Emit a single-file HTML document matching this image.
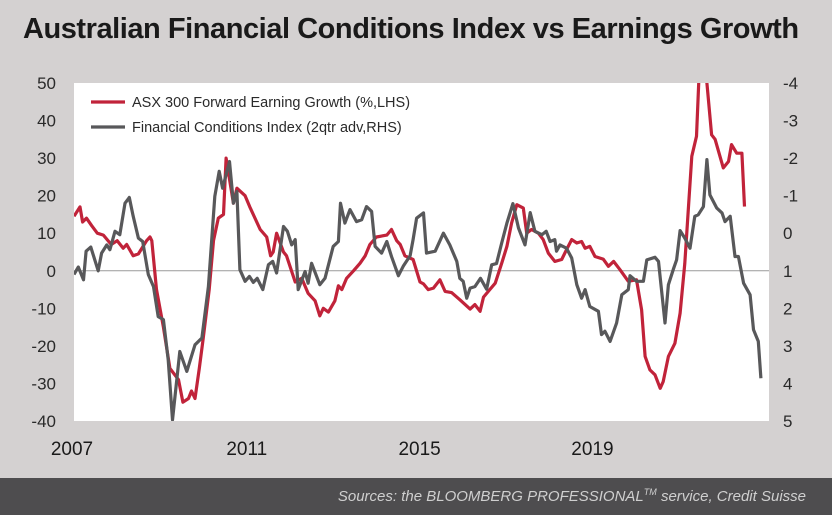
<!DOCTYPE html>
<html><head><meta charset="utf-8">
<style>
html,body{margin:0;padding:0;}
body{width:832px;height:515px;background:#d4d1d1;position:relative;overflow:hidden;font-family:"Liberation Sans",Arial,sans-serif;}
#title{position:absolute;left:23px;top:13px;font-size:29px;font-weight:bold;color:#1a1a1a;letter-spacing:-0.45px;white-space:nowrap;}
#footer{position:absolute;left:0;top:478px;width:832px;height:37px;background:#4e4d4f;}
#footer span{position:absolute;right:26px;top:9px;font-size:15px;font-style:italic;color:#cfcfcf;white-space:nowrap;}
svg{position:absolute;left:0;top:0;}
</style></head><body>
<div id="title">Australian Financial Conditions Index vs Earnings Growth</div>
<svg id="chart" width="832" height="478"></svg>
<div id="footer"><span>Sources: the BLOOMBERG PROFESSIONAL<sup style="font-size:9px">TM</sup> service, Credit Suisse</span></div>
<script>
const xTicks=[2007,2011,2015,2019];
const leftTicks=[50,40,30,20,10,0,-10,-20,-30,-40];
const rightTicks=[-4,-3,-2,-1,0,1,2,3,4,5];
const earnYears=[2007.0,2007.14,2007.2,2007.29,2007.41,2007.54,2007.68,2007.86,2008.0,2008.14,2008.22,2008.37,2008.49,2008.68,2008.76,2008.8,2008.91,2009.07,2009.22,2009.42,2009.52,2009.65,2009.72,2009.8,2009.9,2009.99,2010.13,2010.23,2010.34,2010.46,2010.52,2010.69,2010.77,2010.96,2011.07,2011.31,2011.46,2011.55,2011.61,2011.69,2011.85,2011.92,2012.12,2012.27,2012.42,2012.58,2012.69,2012.77,2012.89,2013.04,2013.12,2013.2,2013.31,2013.47,2013.62,2013.74,2013.85,2014.0,2014.24,2014.35,2014.47,2014.55,2014.66,2014.85,2015.01,2015.09,2015.2,2015.32,2015.47,2015.59,2015.74,2015.93,2016.17,2016.28,2016.4,2016.48,2016.59,2016.75,2016.9,2017.02,2017.13,2017.25,2017.4,2017.48,2017.59,2017.75,2017.86,2017.98,2018.13,2018.29,2018.4,2018.52,2018.64,2018.75,2018.83,2018.94,2019.06,2019.25,2019.37,2019.49,2019.64,2019.83,2020.02,2020.14,2020.22,2020.33,2020.45,2020.57,2020.64,2020.76,2020.91,2021.03,2021.14,2021.22,2021.3,2021.41,2021.48,2021.61,2021.76,2021.84,2022.03,2022.15,2022.22,2022.34,2022.46,2022.52];
const earnValues=[14.5,17,13,14,12,10,9.5,7,8,6,7,4,4.5,8,9,8,-5,-15,-26,-29,-35,-34,-32,-34,-26,-18,-5,8,14,15,30,18,22,20,17,11,9,4,5,10,5,4,-3,-2,-6,-8,-12,-10,-11,-8,-4,-5,-2,0,2,4,7,9,9.5,11,8,7,4,3,-3,-3.5,-5,-4.6,-2.4,-5.5,-5.8,-7.7,-10.2,-9,-10.8,-7,-5.5,-3.3,2,6.5,12.7,17.6,16.7,10,11,10,8.3,4.7,2.5,3,5.6,8.3,7.4,7.8,6,6.5,3.8,3.1,1.2,2.5,0.3,-2.8,-2.4,-10.4,-22.8,-26.4,-27.7,-31.3,-29.5,-22.8,-19.3,-11.3,2,16.3,30.5,35.8,55,55,36.2,35,27.4,29.1,33.6,31.3,31.3,17.1];
const fciYears=[2007.0,2007.1,2007.22,2007.28,2007.39,2007.56,2007.64,2007.76,2007.83,2007.95,2008.06,2008.18,2008.28,2008.37,2008.49,2008.59,2008.72,2008.84,2008.95,2009.07,2009.18,2009.28,2009.45,2009.61,2009.8,2009.96,2010.11,2010.26,2010.36,2010.44,2010.6,2010.69,2010.77,2010.84,2010.96,2011.06,2011.15,2011.24,2011.37,2011.5,2011.6,2011.69,2011.85,2011.94,2012.04,2012.12,2012.19,2012.35,2012.42,2012.5,2012.69,2012.81,2013.0,2013.12,2013.17,2013.27,2013.39,2013.54,2013.66,2013.77,2013.89,2013.97,2014.12,2014.24,2014.35,2014.51,2014.62,2014.78,2014.85,2014.93,2015.09,2015.16,2015.36,2015.55,2015.7,2015.86,2015.93,2016.01,2016.09,2016.17,2016.28,2016.41,2016.55,2016.67,2016.78,2016.9,2017.02,2017.16,2017.29,2017.44,2017.56,2017.67,2017.83,2017.93,2018.02,2018.13,2018.17,2018.25,2018.4,2018.52,2018.64,2018.75,2018.83,2018.94,2019.14,2019.21,2019.29,2019.41,2019.56,2019.68,2019.83,2019.87,2020.02,2020.18,2020.26,2020.45,2020.53,2020.68,2020.76,2020.87,2020.95,2021.03,2021.14,2021.26,2021.37,2021.45,2021.57,2021.65,2021.72,2021.88,2022.0,2022.07,2022.19,2022.3,2022.38,2022.5,2022.65,2022.73,2022.84,2022.9];
const fciValues=[1.1,0.9,1.24,0.48,0.37,1.0,0.53,0.31,0.44,-0.05,0.04,-0.8,-0.95,-0.45,0.13,0.22,1.1,1.42,2.22,2.3,3.37,4.97,3.15,3.68,2.97,2.79,1.42,-0.98,-1.65,-1.2,-1.91,-0.8,-1.11,0.97,1.28,1.15,1.31,1.2,1.5,0.84,0.75,1.06,-0.18,-0.05,0.31,0.17,1.5,1.02,1.33,0.8,1.37,1.2,0.35,0.22,-0.8,-0.27,-0.63,-0.31,-0.36,-0.71,-0.58,0.35,0.53,0.22,0.62,1.13,0.88,0.6,0.17,-0.4,-0.54,0.53,0.48,0,0.31,0.75,1.2,1.28,1.73,1.46,1.42,1.2,1.49,0.84,0.81,0.26,-0.27,-0.79,-0.14,0.31,-0.55,-0.05,0.04,-0.05,0.22,0.17,0.48,0.31,0.4,0.66,1.37,1.73,1.5,1.95,2.08,2.7,2.61,2.88,2.39,1.64,1.5,1.13,1.28,1.28,0.71,0.64,0.75,2.39,1.37,0.97,0.71,-0.07,0.13,0.4,-0.45,-0.49,-0.71,-1.96,-1.02,-0.67,-0.54,-0.31,-0.45,0.62,0.62,1.33,1.64,2.57,2.88,3.86];

const NS="http://www.w3.org/2000/svg";
const svg=document.getElementById('chart');
const PL=74,PR=769,PT=83,PB=421;
const x=y=>PL+(y-2007)*43.2;
const yL=v=>PT+(50-v)*(PB-PT)/90;
const yR=v=>PT+(v+4)*(PB-PT)/9;
function mk(tag,attrs,parent){const e=document.createElementNS(NS,tag);for(const k in attrs)e.setAttribute(k,attrs[k]);(parent||svg).appendChild(e);return e;}

const defs=mk('defs',{});
const cp=mk('clipPath',{id:'plotclip'},defs);
mk('rect',{x:PL,y:PT,width:PR-PL,height:PB-PT},cp);

const bg=mk('rect',{x:PL,y:PT,width:PR-PL,height:PB-PT,fill:'#ffffff'});



const zl=mk('line',{x1:PL,x2:PR,y1:yL(0),y2:yL(0),stroke:'#9a9a9a','stroke-width':1});



leftTicks.forEach(v=>{
  const t=mk('text',{x:56,y:yL(v)+6,'text-anchor':'end','font-size':17,fill:'#2a2a2a'});
  t.textContent=v;
  
  
});
rightTicks.forEach(v=>{
  const t=mk('text',{x:783,y:yR(v)+6,'text-anchor':'start','font-size':17,fill:'#2a2a2a'});
  t.textContent=v;
  
  
});
xTicks.forEach(v=>{
  const t=mk('text',{x:x(v)+(v===2007?-2:0),y:455,'text-anchor':'middle','font-size':19,fill:'#1a1a1a'});
  t.textContent=v;
  
  
});

function path(xs,vs,fy,color,name){
  let d='';xs.forEach((t,i)=>{d+=(i?'L':'M')+x(t).toFixed(1)+','+fy(vs[i]).toFixed(1);});
  const p=mk('path',{d:d,fill:'none',stroke:color,'stroke-width':3.2,'stroke-linejoin':'round','clip-path':'url(#plotclip)'});
  
  
}
path(earnYears,earnValues,yL,'#c1233a','earnings-growth-line');
path(fciYears,fciValues,yR,'#58585a','fci-line');

const legend=[['#c1233a','ASX 300 Forward Earning Growth (%,LHS)','legend-earnings'],['#58585a','Financial Conditions Index (2qtr adv,RHS)','legend-fci']];
legend.forEach((l,i)=>{
  const g=mk('g',{});
  
  
  const yy=102+i*25;
  mk('line',{x1:91,x2:125,y1:yy,y2:yy,stroke:l[0],'stroke-width':3.2},g);
  const t=mk('text',{x:132,y:yy+5,'font-size':14.5,fill:'#2a2a2a'},g);
  t.textContent=l[1];
});
</script>
</body></html>
